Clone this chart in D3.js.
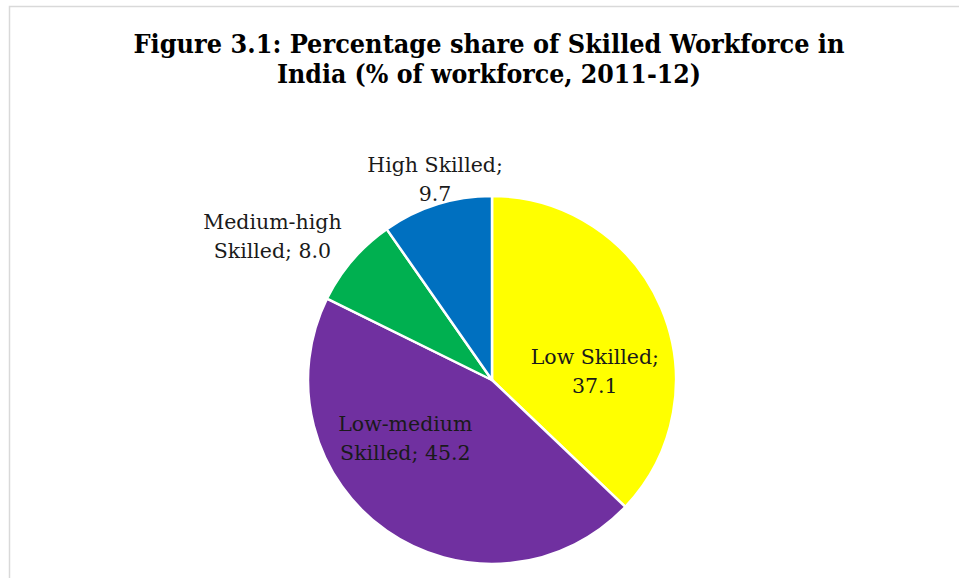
<!DOCTYPE html>
<meta charset="utf-8">
<style>
  body { margin: 0; background: #fff; }
  .title { font-family: "DejaVu Serif", serif; font-weight: bold; font-size: 26px; fill: #000; }
  .lbl { font-family: "DejaVu Serif", serif; font-size: 20.5px; fill: #1a1a1a; }
</style>
<body>
<div id="chart"></div>
<script src="https://d3js.org/d3.v7.min.js"></script>
<script>
  var categories = ["Low Skilled", "Low-medium Skilled", "Medium-high Skilled", "High Skilled"];
  var values = [37.1, 45.2, 8.0, 9.7];
  var colors = ["#FFFF00", "#7030A0", "#00B050", "#0070C0"];
  // label lines as Excel broke them
  var labelLines = [
    ["Low Skilled;", "37.1"],
    ["Low-medium", "Skilled; 45.2"],
    ["Medium-high", "Skilled; 8.0"],
    ["High Skilled;", "9.7"]
  ];
  var titleLines = ["Figure 3.1: Percentage share of Skilled Workforce in", "India (% of workforce, 2011-12)"];

  var width = 959, height = 578;
  var cx = 492, cy = 380, radius = 184;

  var svg = d3.select("#chart").append("svg")
      .attr("width", width)
      .attr("height", height);

  // chart area border (only left and top are visible in the crop)
  svg.append("path")
      .attr("d", "M9.5,578 V6.5 H959")
      .attr("fill", "none")
      .attr("stroke", "#d9d9d9")
      .attr("stroke-width", 1.5);

  svg.selectAll("text.title").data(titleLines).enter()
      .append("text")
      .attr("class", "title")
      .attr("x", 489)
      .attr("y", function (d, i) { return 53 + i * 30; })
      .attr("text-anchor", "middle")
      .attr("textLength", function (d, i) { return i == 0 ? 711 : 424; })
      .attr("lengthAdjust", "spacingAndGlyphs")
      .text(function (d) { return d; });

  var pie = d3.pie().sort(null).value(function (d) { return d; });
  var arcs = pie(values);
  var arc = d3.arc().innerRadius(0).outerRadius(radius);

  var g = svg.append("g").attr("transform", "translate(" + cx + "," + cy + ")");

  g.selectAll("path.slice").data(arcs).enter()
      .append("path")
      .attr("class", "slice")
      .attr("d", arc)
      .attr("fill", function (d, i) { return colors[i]; })
      .attr("stroke", "#fff")
      .attr("stroke-width", 2.5)
      .attr("stroke-linejoin", "round");

  // labels: inside ones near the centroid, small slices pushed outside
  var nudge = [[-2, 37], [-34, -16], [-34, 17], [11, 16]];
  var labelRadius = [0.62, 0.5, 1.33, 1.23];

  var labels = g.selectAll("text.lbl").data(arcs).enter()
      .append("text")
      .attr("class", "lbl")
      .attr("text-anchor", "middle")
      .attr("transform", function (d, i) {
        var a = (d.startAngle + d.endAngle) / 2;
        var r = radius * labelRadius[i];
        var x = Math.sin(a) * r + nudge[i][0];
        var y = -Math.cos(a) * r + nudge[i][1];
        return "translate(" + x + "," + y + ")";
      });

  labels.selectAll("tspan").data(function (d, i) { return labelLines[i]; }).enter()
      .append("tspan")
      .attr("x", 0)
      .attr("y", function (d, j) { return j * 29 - 8; })
      .text(function (d) { return d; });
</script>
</body>
